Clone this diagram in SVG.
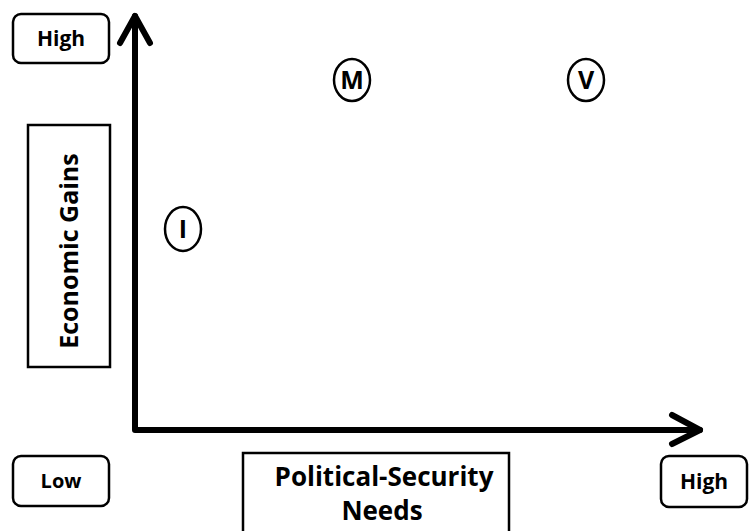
<svg xmlns="http://www.w3.org/2000/svg" width="751" height="531" viewBox="0 0 751 531">
<style>
.box{fill:#fff;stroke:#000;stroke-width:2.5}
.lbl{font-family:"Open Sans","Liberation Sans",sans-serif;font-weight:700;fill:#000;text-anchor:middle}
.axis{fill:none;stroke:#000;stroke-width:6;stroke-linecap:round;stroke-linejoin:round}
.pt{fill:#fff;stroke:#000;stroke-width:2.5}
</style>
<rect width="751" height="531" fill="#fff"/>
<g id="connectors">
<polyline class="axis" points="135,16 135,430 700,430"/>
<polyline class="axis" points="120,43 135,16 150,43"/>
<polyline class="axis" points="672,415 700,430 672,444"/>
</g>
<g id="high-y">
<rect class="box" x="13" y="14" width="96" height="49" rx="8"/>
<text class="lbl" x="61" y="46" font-size="21">High</text>
</g>
<g id="low">
<rect class="box" x="13" y="456" width="96" height="50" rx="8"/>
<text class="lbl" x="61" y="488" font-size="20">Low</text>
</g>
<g id="high-x">
<rect class="box" x="661" y="456" width="86" height="51" rx="8"/>
<text class="lbl" x="704" y="489" font-size="21">High</text>
</g>
<g id="economic-gains">
<rect class="box" x="28" y="125" width="82" height="242"/>
<text class="lbl" transform="translate(78,251) rotate(-90)" font-size="25">Economic Gains</text>
</g>
<g id="political-security">
<rect class="box" x="243" y="453" width="266" height="80"/>
<text class="lbl" x="384" y="486" font-size="26">Political-Security</text>
<text class="lbl" x="382" y="520" font-size="26">Needs</text>
</g>
<g id="M">
<ellipse class="pt" cx="352" cy="80" rx="18" ry="21"/>
<text class="lbl" x="352" y="89" font-size="25">M</text>
</g>
<g id="V">
<ellipse class="pt" cx="586" cy="80" rx="18" ry="21"/>
<text class="lbl" x="586" y="89" font-size="25">V</text>
</g>
<g id="I">
<ellipse class="pt" cx="183" cy="229" rx="18" ry="22"/>
<text class="lbl" x="183" y="238" font-size="25">I</text>
</g>
</svg>
